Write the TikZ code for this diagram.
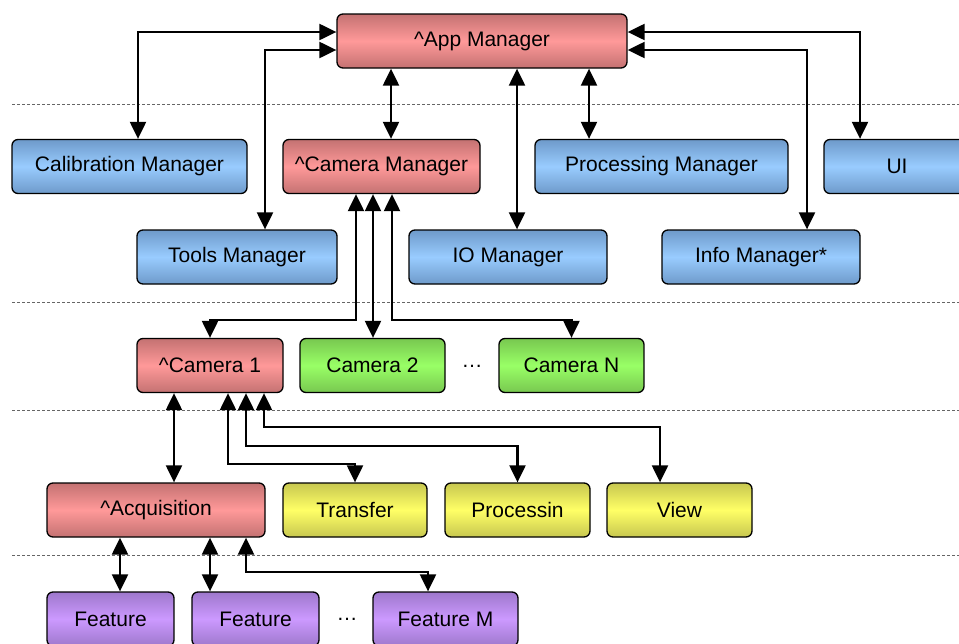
\documentclass[tikz,border=0pt]{standalone}
\usepackage{fontspec}
\usepackage{xcolor}
\setmainfont{Liberation Sans}
\usetikzlibrary{arrows.meta}

\definecolor{redMid}{HTML}{FF9999}
\definecolor{redEdge}{HTML}{C47272}
\definecolor{blueMid}{HTML}{99CCFF}
\definecolor{blueEdge}{HTML}{6E9ACA}
\definecolor{greenMid}{HTML}{99FF66}
\definecolor{greenEdge}{HTML}{78C850}
\definecolor{yellowMid}{HTML}{FFFF66}
\definecolor{yellowEdge}{HTML}{C8C850}
\definecolor{purpleMid}{HTML}{CC99FF}
\definecolor{purpleEdge}{HTML}{9E78CC}

\begin{document}
\begin{tikzpicture}[x=1pt, y=-1pt, font=\fontsize{21}{25}\selectfont]
% Define styles
\tikzstyle{box}=[rectangle, rounded corners=6pt, minimum height=54pt, inner sep=0pt, text centered, draw=black, line width=1.3pt]
\tikzstyle{redBox}=[box, top color=redEdge, bottom color=redEdge, middle color=redMid]
\tikzstyle{blueBox}=[box, top color=blueEdge, bottom color=blueEdge, middle color=blueMid]
\tikzstyle{greenBox}=[box, top color=greenEdge, bottom color=greenEdge, middle color=greenMid]
\tikzstyle{yellowBox}=[box, top color=yellowEdge, bottom color=yellowEdge, middle color=yellowMid]
\tikzstyle{purpleBox}=[box, top color=purpleEdge, bottom color=purpleEdge, middle color=purpleMid]
\tikzstyle{arrow}=[>={Triangle[length=17pt, width=16pt]}, <->, line width=2.2pt]
\tikzstyle{level}=[densely dashed, gray!80!black, line width=0.6pt]

\useasboundingbox (0,0) rectangle (959,643);

% Level separators
\foreach \y in {104, 302, 410, 555}
  \draw[level] (12,\y) -- (959,\y);

% Top level
\node[redBox, minimum width=290pt] (app) at (482,41) {\textasciicircum App Manager};

% Managers
\node[blueBox, minimum width=235pt] (calib) at (129.5,166.5) {Calibration Manager};
\node[redBox, minimum width=197pt] (cammgr) at (381.5,166.5) {\textasciicircum Camera Manager};
\node[blueBox, minimum width=253pt] (procmgr) at (661.5,166.5) {Processing Manager};
\node[blueBox, minimum width=146pt] (ui) at (897,166.5) {UI};
\node[blueBox, minimum width=200pt] (tools) at (237,257) {Tools Manager};
\node[blueBox, minimum width=198pt] (io) at (508,257) {IO Manager};
\node[blueBox, minimum width=198pt] (info) at (761,257) {Info Manager*};

% Cameras
\node[redBox, minimum width=146pt] (cam1) at (210,365.5) {\textasciicircum Camera 1};
\node[greenBox, minimum width=145pt] (cam2) at (372.5,365.5) {Camera 2};
\node (camdots) at (472,366) {\dots};
\node[greenBox, minimum width=145pt] (camn) at (571.5,365.5) {Camera N};

% Camera parts
\node[redBox, minimum width=218pt] (acq) at (156,510) {\textasciicircum Acquisition};
\node[yellowBox, minimum width=144pt] (transfer) at (355,510) {Transfer};
\node[yellowBox, minimum width=145pt] (proc) at (517.5,510) {Processin};
\node[yellowBox, minimum width=145pt] (view) at (679.5,510) {View};

% Features
\node[purpleBox, minimum width=127pt] (feat1) at (110.5,619) {Feature};
\node[purpleBox, minimum width=127pt] (feat2) at (255.5,619) {Feature};
\node (featdots) at (347,619) {\dots};
\node[purpleBox, minimum width=145pt] (featm) at (445.5,619) {Feature M};

% Arrows from the app manager
\draw[arrow] ([yshift=9pt]app.west) -| ([xshift=8.5pt]calib.north);
\draw[arrow] ([yshift=-9pt]app.west) -| ([xshift=28pt]tools.north);
\draw[arrow] ([yshift=9pt]app.east) -| ([xshift=-37pt]ui.north);
\draw[arrow] ([yshift=-9pt]app.east) -| ([xshift=46pt]info.north);
\draw[arrow] ([xshift=-91pt]app.south) -- ([xshift=-91pt]app.south |- cammgr.north);
\draw[arrow] ([xshift=35pt]app.south) -- ([xshift=35pt]app.south |- io.north);
\draw[arrow] ([xshift=107pt]app.south) -- ([xshift=107pt]app.south |- procmgr.north);

% Arrows from the camera manager
\draw[arrow] ([xshift=-25.5pt]cammgr.south) |- ([yshift=18pt]cam1.north) -- (cam1.north);
\draw[arrow] ([xshift=-8.5pt]cammgr.south) -- ([xshift=-8.5pt]cammgr.south |- cam2.north);
\draw[arrow] ([xshift=10.5pt]cammgr.south) |- ([yshift=18pt]camn.north) -- (camn.north);

% Arrows from camera 1
\draw[arrow] ([xshift=-36pt]cam1.south) -- ([xshift=-36pt]cam1.south |- acq.north);
\draw[arrow] ([xshift=18pt]cam1.south) |- ([yshift=18pt]transfer.north) -- (transfer.north);
\draw[arrow] ([xshift=36pt]cam1.south) |- ([yshift=36pt]proc.north) -- (proc.north);
\draw[arrow] ([xshift=54pt]cam1.south) |- ([xshift=-19.5pt, yshift=55pt]view.north) -- ([xshift=-19.5pt]view.north);

% Arrows from acquisition
\draw[arrow] ([xshift=-36pt]acq.south) -- ([xshift=-36pt]acq.south |- feat1.north);
\draw[arrow] ([xshift=54pt]acq.south) -- ([xshift=54pt]acq.south |- feat2.north);
\draw[arrow] ([xshift=90pt]acq.south) |- ([xshift=-17.5pt, yshift=19pt]featm.north) -- ([xshift=-17.5pt]featm.north);
\end{tikzpicture}
\end{document}
